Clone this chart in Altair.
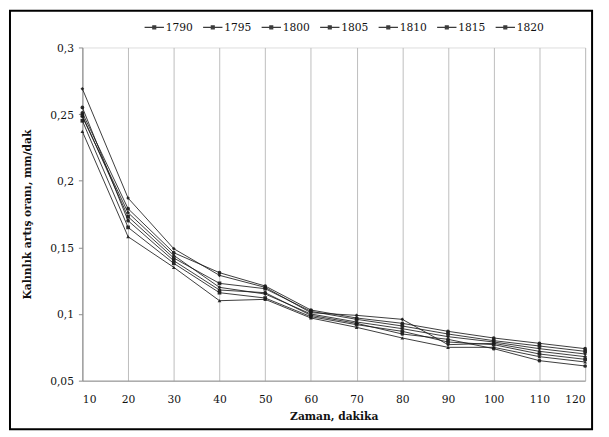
import altair as alt
import pandas as pd

minutes = [10, 20, 30, 40, 50, 60, 70, 80, 90, 100, 110, 120]
years = ["1790", "1795", "1800", "1805", "1810", "1815", "1820"]
series = {
    "1790": [0.248, 0.176, 0.144, 0.120, 0.115, 0.100, 0.094, 0.089, 0.083, 0.079, 0.074, 0.070],
    "1795": [0.237, 0.158, 0.135, 0.110, 0.111, 0.097, 0.090, 0.082, 0.075, 0.075, 0.068, 0.064],
    "1800": [0.251, 0.179, 0.146, 0.131, 0.121, 0.103, 0.097, 0.093, 0.087, 0.082, 0.078, 0.074],
    "1805": [0.245, 0.165, 0.138, 0.116, 0.112, 0.098, 0.092, 0.087, 0.079, 0.077, 0.070, 0.066],
    "1810": [0.249, 0.173, 0.142, 0.123, 0.119, 0.102, 0.096, 0.091, 0.085, 0.080, 0.076, 0.072],
    "1815": [0.255, 0.170, 0.140, 0.118, 0.116, 0.099, 0.093, 0.085, 0.081, 0.074, 0.065, 0.061],
    "1820": [0.269, 0.187, 0.149, 0.129, 0.120, 0.101, 0.099, 0.096, 0.077, 0.078, 0.072, 0.068],
}
shapes = ["diamond", "triangle-up", "circle", "square", "square", "circle", "diamond"]

rows = []
for y in years:
    for m, v in zip(minutes, series[y]):
        rows.append({"Zaman": m, "Oran": v, "Yil": y})
df = pd.DataFrame(rows)

FONT = "'DejaVu Serif Condensed', 'DejaVu Serif', serif"
legend_sym = "M-1,0L1,0M-0.15,-0.15L0.15,-0.15L0.15,0.15L-0.15,0.15Z"

x = alt.X("Zaman:Q", scale=alt.Scale(domain=[10, 120], nice=False, zero=False),
          axis=alt.Axis(values=minutes, title="Zaman, dakika", grid=True,
                        gridColor="#bdbdbd", gridWidth=1, domainColor="#8c8c8c",
                        ticks=False, labelPadding=13, labelFontSize=12,
                        titleFontSize=12, titleFontWeight="bold", titlePadding=6,
                        labelFont=FONT, titleFont=FONT, labelColor="#111",
                        titleColor="#111"))
y = alt.Y("Oran:Q", scale=alt.Scale(domain=[0.05, 0.3], nice=False, zero=False),
          axis=alt.Axis(values=[0.05, 0.1, 0.15, 0.2, 0.25, 0.3],
                        labelExpr="replace(toString(round(datum.value*100)/100), '.', ',')",
                        title="Kalınlık artış oranı, mm/dak", grid=False,
                        domainColor="#8c8c8c", tickColor="#8c8c8c", tickSize=4,
                        labelPadding=5, labelFontSize=12, titleFontSize=12,
                        titleFontWeight="bold", titlePadding=16, labelFont=FONT,
                        titleFont=FONT, labelColor="#111", titleColor="#111"))

color = alt.Color("Yil:N", sort=years,
                  scale=alt.Scale(domain=years, range=["#1a1a1a"] * 7),
                  legend=alt.Legend(orient="none", direction="horizontal",
                                    legendX=62, legendY=-31, title=None,
                                    symbolType=legend_sym, symbolSize=380,
                                    symbolStrokeWidth=1.2, symbolFillColor="#111",
                                    symbolStrokeColor="#111",
                                    labelFont=FONT, labelFontSize=12,
                                    labelColor="#111", columnPadding=7,
                                    labelOffset=1))

base = alt.Chart(df)
lines = base.mark_line(strokeWidth=1, opacity=0.85).encode(
    x=x, y=y, color=color, detail="Yil:N")

point_layers = []
for yr, shp in zip(years, shapes):
    point_layers.append(
        base.transform_filter(alt.datum.Yil == yr)
        .mark_point(filled=True, size=14, opacity=0.9, color="#1a1a1a", shape=shp)
        .encode(x=x, y=y))

frame = alt.Chart(pd.DataFrame({"a": [0]})).mark_rect(
    fill=None, stroke="#000", strokeWidth=2, clip=False).encode(
    x=alt.value(-73), x2=alt.value(514), y=alt.value(-37), y2=alt.value(385))

chart = alt.layer(lines, *point_layers, frame).properties(
    width=507, height=336,
    padding={"left": 75, "top": 38, "right": 16, "bottom": 52},
    autosize=alt.AutoSizeParams(type="none"),
).configure_view(stroke=None).configure(background="white")

chart.save("out.html", embed_options={"renderer": "svg", "actions": False})
